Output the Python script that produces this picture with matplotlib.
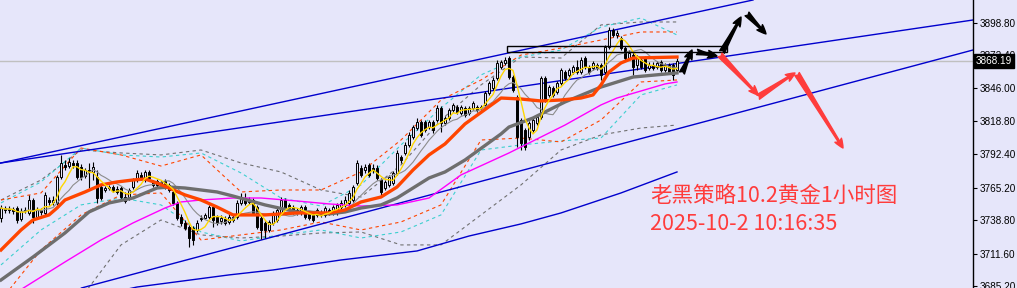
import matplotlib.pyplot as plt
import numpy as np
import pandas as pd
from matplotlib.patches import Rectangle

# 1h candles, oldest first
opens = [3740.6, 3748.7, 3747.1, 3747.9, 3748.7, 3739.8, 3746.3, 3744.7, 3755.2, 3741.4,
         3747.1, 3744.7, 3755.2, 3753.6, 3752.8, 3773.8, 3783.6, 3782.7, 3785.2, 3785.2,
         3781.9, 3774.6, 3779.5, 3777.9, 3773.8, 3765.7, 3763.3, 3764.9, 3765.7, 3764.1,
         3764.9, 3757.6, 3757.6, 3765.7, 3771.4, 3775.5, 3771.4, 3777.9, 3769.8, 3767.4,
         3769.8, 3770.6, 3767.4, 3761.7, 3752.8, 3741.4, 3736.6, 3733.3, 3732.5, 3730.9,
         3739.8, 3740.6, 3741.4, 3749.5, 3741.4, 3738.2, 3739.8, 3737.4, 3741.4, 3741.4,
         3752.8, 3756.8, 3753.6, 3755.2, 3749.5, 3740.6, 3736.6, 3730.9, 3736.6, 3739.0,
         3744.7, 3755.2, 3751.2, 3749.5, 3747.1, 3744.7, 3749.5, 3744.7, 3743.1, 3743.1,
         3745.5, 3743.1, 3747.1, 3744.7, 3744.7, 3749.5, 3751.2, 3752.8, 3755.2, 3769.0,
         3781.1, 3779.5, 3783.6, 3781.1, 3781.1, 3771.4, 3764.9, 3767.4, 3769.0, 3777.1,
         3790.0, 3793.3, 3799.8, 3806.2, 3813.5, 3818.4, 3818.4, 3814.3, 3818.4, 3820.0,
         3829.7, 3817.6, 3821.6, 3828.1, 3830.5, 3825.7, 3829.7, 3825.7, 3829.7, 3830.5,
         3829.7, 3832.2, 3841.9, 3845.9, 3854.0, 3862.9, 3866.2, 3870.2, 3854.8, 3838.6,
         3820.0, 3811.9, 3806.2, 3811.9, 3817.6, 3822.4, 3854.0, 3840.3, 3845.9, 3842.7,
         3850.0, 3858.9, 3856.5, 3858.9, 3862.9, 3858.9, 3870.2, 3862.9, 3862.1, 3864.5,
         3864.5, 3858.9, 3879.1, 3892.9, 3888.9, 3886.4, 3878.3, 3870.2, 3872.7, 3864.5,
         3868.6, 3870.2, 3862.1, 3864.5, 3862.9, 3867.0, 3860.5, 3864.5, 3864.5, 3860.5]
closes = [3748.7, 3747.1, 3747.9, 3746.3, 3739.0, 3746.3, 3747.1, 3755.2, 3741.4, 3747.9,
          3745.5, 3759.3, 3753.6, 3755.2, 3773.8, 3785.2, 3781.9, 3786.0, 3783.6, 3773.8,
          3773.8, 3779.5, 3777.9, 3781.9, 3756.8, 3756.8, 3764.9, 3765.7, 3763.3, 3761.7,
          3757.6, 3754.4, 3763.3, 3771.4, 3777.1, 3773.0, 3777.9, 3773.0, 3767.4, 3770.6,
          3767.4, 3765.7, 3763.3, 3752.8, 3740.6, 3736.6, 3732.5, 3724.4, 3722.8, 3736.6,
          3740.6, 3743.1, 3749.5, 3739.0, 3736.6, 3740.6, 3736.6, 3741.4, 3739.0, 3752.8,
          3756.8, 3752.8, 3755.2, 3744.7, 3733.3, 3730.9, 3730.9, 3737.4, 3744.7, 3747.1,
          3755.2, 3748.7, 3748.7, 3745.5, 3744.7, 3749.5, 3741.4, 3740.6, 3739.0, 3747.1,
          3743.1, 3748.7, 3744.7, 3749.5, 3751.2, 3752.8, 3755.2, 3760.9, 3765.7, 3785.2,
          3775.5, 3781.9, 3775.5, 3779.5, 3773.0, 3761.7, 3769.8, 3773.8, 3777.1, 3793.3,
          3787.6, 3799.8, 3807.9, 3814.3, 3818.4, 3807.9, 3811.9, 3818.4, 3811.9, 3829.7,
          3817.6, 3821.6, 3828.1, 3832.2, 3826.5, 3830.5, 3824.0, 3829.7, 3833.8, 3828.1,
          3830.5, 3841.9, 3850.0, 3852.4, 3866.2, 3867.0, 3868.6, 3854.8, 3844.3, 3806.2,
          3801.4, 3798.1, 3817.6, 3820.0, 3822.4, 3854.0, 3836.2, 3846.7, 3840.3, 3850.0,
          3860.5, 3854.0, 3860.5, 3862.9, 3858.9, 3868.6, 3862.9, 3858.9, 3866.2, 3862.1,
          3856.5, 3879.1, 3892.9, 3888.9, 3890.5, 3878.3, 3870.2, 3874.3, 3862.9, 3871.0,
          3862.9, 3860.5, 3864.5, 3862.1, 3866.2, 3860.5, 3864.5, 3858.9, 3856.5, 3868.19]
highs = [3751.2, 3750.3, 3750.3, 3749.5, 3750.3, 3748.7, 3749.5, 3759.3, 3756.8, 3749.5,
         3748.7, 3761.7, 3757.6, 3758.4, 3775.5, 3791.7, 3787.6, 3789.2, 3787.6, 3787.6,
         3784.4, 3781.1, 3785.2, 3786.0, 3779.5, 3767.4, 3766.5, 3767.4, 3767.4, 3766.5,
         3766.5, 3761.7, 3764.9, 3773.0, 3779.5, 3777.9, 3779.5, 3779.5, 3771.4, 3772.2,
         3771.4, 3772.2, 3769.0, 3763.3, 3754.4, 3743.9, 3739.0, 3734.9, 3734.1, 3739.0,
         3743.1, 3744.7, 3751.2, 3751.2, 3743.1, 3743.1, 3742.2, 3743.9, 3743.1, 3755.2,
         3760.9, 3760.9, 3757.6, 3756.8, 3751.2, 3742.2, 3738.2, 3739.0, 3746.3, 3748.7,
         3757.6, 3756.8, 3752.8, 3751.2, 3748.7, 3751.2, 3751.2, 3746.3, 3744.7, 3748.7,
         3747.1, 3750.3, 3748.7, 3751.2, 3752.8, 3755.2, 3758.4, 3763.3, 3767.4, 3787.6,
         3783.6, 3784.4, 3785.2, 3784.4, 3783.6, 3773.0, 3771.4, 3775.5, 3778.7, 3795.7,
         3791.7, 3802.2, 3810.3, 3816.0, 3821.6, 3820.0, 3820.0, 3820.0, 3820.0, 3832.2,
         3831.3, 3823.2, 3829.7, 3833.8, 3832.2, 3832.2, 3831.3, 3831.3, 3835.4, 3832.2,
         3832.2, 3843.5, 3851.6, 3854.8, 3868.6, 3868.6, 3871.0, 3871.8, 3856.5, 3840.3,
         3821.6, 3813.5, 3819.2, 3821.6, 3824.0, 3855.6, 3855.6, 3848.4, 3847.5, 3851.6,
         3862.1, 3860.5, 3862.1, 3864.5, 3868.6, 3871.0, 3871.8, 3864.5, 3867.8, 3866.2,
         3866.2, 3880.8, 3895.3, 3894.5, 3892.9, 3888.0, 3879.9, 3876.7, 3875.1, 3872.7,
         3870.2, 3871.8, 3867.0, 3867.0, 3867.8, 3868.6, 3866.2, 3866.2, 3866.2, 3870.2]
lows = [3737.4, 3744.7, 3744.7, 3743.9, 3736.6, 3738.2, 3744.7, 3743.1, 3736.6, 3739.8,
        3743.1, 3743.1, 3751.2, 3751.2, 3751.2, 3772.2, 3779.5, 3781.1, 3781.1, 3772.2,
        3771.4, 3773.0, 3764.9, 3771.4, 3752.8, 3755.2, 3761.7, 3763.3, 3761.7, 3760.1,
        3755.2, 3752.8, 3755.2, 3764.1, 3769.8, 3771.4, 3769.8, 3771.4, 3765.7, 3765.7,
        3765.7, 3764.1, 3761.7, 3751.2, 3739.0, 3734.1, 3730.9, 3717.1, 3718.8, 3729.3,
        3738.2, 3739.8, 3739.8, 3733.3, 3734.9, 3735.8, 3734.9, 3735.8, 3737.4, 3739.8,
        3751.2, 3751.2, 3752.0, 3743.1, 3731.7, 3723.6, 3724.4, 3729.3, 3734.9, 3737.4,
        3743.1, 3747.1, 3747.1, 3743.9, 3743.1, 3743.1, 3739.8, 3739.0, 3737.4, 3741.4,
        3741.4, 3741.4, 3743.1, 3743.1, 3743.1, 3747.9, 3749.5, 3751.2, 3753.6, 3767.4,
        3773.8, 3777.1, 3773.8, 3777.1, 3771.4, 3759.3, 3763.3, 3765.7, 3767.4, 3775.5,
        3785.2, 3791.7, 3798.1, 3804.6, 3811.9, 3806.2, 3810.3, 3812.7, 3809.5, 3818.4,
        3810.3, 3816.0, 3820.0, 3826.5, 3824.9, 3824.0, 3822.4, 3824.0, 3828.1, 3826.5,
        3828.1, 3830.5, 3840.3, 3844.3, 3852.4, 3861.3, 3864.5, 3853.2, 3842.7, 3798.1,
        3795.7, 3795.7, 3803.8, 3810.3, 3816.0, 3820.8, 3834.6, 3838.6, 3838.6, 3841.1,
        3848.4, 3852.4, 3854.8, 3857.3, 3857.3, 3857.3, 3861.3, 3857.3, 3860.5, 3860.5,
        3852.4, 3857.3, 3877.5, 3887.2, 3886.4, 3876.7, 3868.6, 3868.6, 3856.5, 3860.5,
        3861.3, 3858.9, 3860.5, 3860.5, 3861.3, 3858.9, 3858.9, 3857.3, 3852.4, 3858.9]
last_price = 3868.19

# slow averages: (bar index, price)
orange_ma_bars = [0, 5, 8, 12, 14, 16, 21, 25, 29, 33, 36, 39, 42, 46, 50, 54, 58, 66, 74, 82,
                  86, 90, 95, 99, 103, 107, 111, 116, 125, 130, 135, 140, 145, 148, 150, 152,
                  155, 158, 169]
orange_ma = [3714.7, 3730.9, 3739.0, 3743.1, 3748.7, 3755.2, 3761.7, 3767.4, 3769.8, 3771.4,
             3772.2, 3769.0, 3764.9, 3759.3, 3755.2, 3749.5, 3743.1, 3743.1, 3744.7, 3744.7,
             3747.1, 3753.6, 3757.6, 3765.7, 3779.5, 3791.7, 3800.6, 3816.8, 3837.8, 3837.0,
             3835.4, 3836.2, 3837.8, 3840.3, 3848.4, 3858.9, 3866.2, 3870.2, 3871.0]
grey_ma_bars = [0, 8, 16, 22, 27, 33, 39, 42, 46, 50, 54, 58, 66, 74, 82, 86, 90, 95, 99, 103,
                107, 111, 116, 125, 127, 133, 141, 150, 158, 169]
grey_ma = [3690.4, 3709.0, 3728.5, 3745.5, 3752.8, 3756.8, 3764.9, 3765.7, 3764.9, 3763.3,
           3761.7, 3758.4, 3751.2, 3745.5, 3743.9, 3745.5, 3748.7, 3751.2, 3756.8, 3764.9,
           3773.0, 3777.9, 3787.6, 3808.7, 3814.3, 3821.6, 3834.6, 3846.7, 3854.8, 3858.1]
magenta_ma_bars = [0, 6, 16, 25, 33, 41, 45, 50, 58, 65, 74, 82, 90, 99, 107, 115, 127, 141,
                   150, 154, 166, 169]
magenta_ma = [3672.6, 3684.7, 3705.0, 3722.8, 3736.6, 3748.7, 3753.6, 3755.2, 3756.8, 3756.8,
              3754.4, 3752.0, 3750.3, 3751.2, 3756.8, 3775.5, 3793.3, 3815.9, 3832.2, 3837.8,
              3849.2, 3850.8]
blue_ma_bars = [25, 34, 57, 68, 85, 104, 117, 130, 140, 155, 169]
blue_ma = [3678.3, 3684.7, 3694.5, 3698.5, 3706.6, 3713.9, 3726.0, 3735.8, 3744.7, 3760.9,
           3777.9]

# band lines, sampled every 10 bars
band_bars = [0, 10, 20, 30, 40, 50, 60, 70, 80, 90, 100, 110, 120, 130, 140, 150, 160, 169]
orange_up = [3755.2, 3760.9, 3797.3, 3791.7, 3782.7, 3791.7, 3761.7, 3763.3, 3763.3, 3777.9,
             3803.8, 3836.2, 3852.4, 3872.6, 3878.3, 3884.8, 3891.3, 3891.3]
orange_dn = [3674.2, 3714.7, 3743.1, 3759.3, 3760.9, 3722.8, 3726.9, 3730.9, 3737.4, 3730.9,
             3737.4, 3751.2, 3803.8, 3805.4, 3802.2, 3820.0, 3850.8, 3852.4]
grey_up = [3755.2, 3771.4, 3795.7, 3793.3, 3791.7, 3795.7, 3785.2, 3777.9, 3763.3, 3757.6,
           3783.6, 3820.0, 3848.4, 3871.0, 3870.2, 3897.0, 3899.4, 3899.4]
grey_dn = [3649.9, 3658.0, 3675.8, 3718.8, 3739.0, 3726.9, 3724.4, 3726.0, 3728.5, 3729.3,
           3718.8, 3718.8, 3743.1, 3767.4, 3795.7, 3807.9, 3813.5, 3815.9]
cyan_up = [3752.8, 3769.8, 3797.3, 3791.7, 3790.0, 3793.3, 3777.1, 3756.8, 3750.3, 3767.4,
           3799.8, 3829.7, 3856.5, 3871.0, 3876.7, 3895.3, 3902.6, 3888.9]
cyan_dn = [3702.6, 3730.9, 3751.2, 3756.8, 3751.2, 3729.3, 3722.0, 3726.9, 3730.9, 3724.4,
           3729.3, 3743.1, 3795.7, 3799.8, 3803.0, 3805.4, 3840.3, 3848.4]

# drawn objects: trend lines, box, arrows
trend_lines = [((0, 3785.2), (188, 3917.2)),
               ((0, 3785.2), (243, 3901.0)),
               ((32.25, 3694.4), (243, 3876.7))]
box_bars = (126.5, 181.5)
box_prices = (3875.1, 3879.9)
black_arrows = [((170.25, 3858.1), (172.75, 3876.7)),
                ((174, 3875.1), (179, 3871.8)),
                ((180.25, 3875.1), (185, 3903.4)),
                ((186.5, 3905.9), (191.25, 3889.7))]
red_arrows = [((179.75, 3872.7), (189.25, 3840.3)),
              ((189.25, 3838.6), (198.5, 3858.1)),
              ((199, 3857.3), (210.5, 3797.3))]

y_ticks = [3898.80, 3872.40, 3846.00, 3818.80, 3792.40, 3765.20, 3738.80, 3711.60, 3685.20]
title_lines = ["老黑策略10.2黄金1小时图", "2025-10-2 10:16:35"]

BG = '#e6e6fa'
RED = '#ff3c3c'

fig = plt.figure(figsize=(10.17, 2.88), dpi=100, facecolor=BG)
ax = fig.add_axes([0, 0, 973 / 1017, 1], facecolor=BG)

x = np.arange(len(closes))
o = np.array(opens)
c = np.array(closes)
h = np.array(highs)
l = np.array(lows)

# band lines
dash = (0, (3, 3))
for up, dn, col in [(grey_up, grey_dn, '#707070'), (cyan_up, cyan_dn, '#3ccfcf'),
                    (orange_up, orange_dn, '#ff4500')]:
    ax.plot(band_bars, up, color=col, lw=0.8, ls=dash, zorder=2)
    ax.plot(band_bars, dn, color=col, lw=0.8, ls=dash, zorder=2)

# trend lines
for p1, p2 in trend_lines:
    ax.axline(p1, p2, color='#0000cd', lw=1.0, zorder=2)
ax.plot(blue_ma_bars, blue_ma, color='#0000cd', lw=1.0, zorder=2)

ax.axhline(last_price, color='#c0c0c0', lw=1.0, zorder=1)

# candles
ax.vlines(x, l, h, color='black', lw=0.8, zorder=3)
up = c >= o
ax.bar(x[up], (c - o)[up], bottom=o[up], width=0.7, color=BG, edgecolor='black',
       lw=0.7, zorder=4)
ax.bar(x[~up], (o - c)[~up], bottom=c[~up], width=0.7, color='black', edgecolor='black',
       lw=0.7, zorder=4)

# averages
s = pd.Series(closes)
ax.plot(x, s.rolling(10, min_periods=1).mean(), color='#8c8c8c', lw=0.8, zorder=5)
ax.plot(magenta_ma_bars, magenta_ma, color='#ff00ff', lw=1.0, zorder=5)
ax.plot(grey_ma_bars, grey_ma, color='#6e6e6e', lw=2.4, zorder=5)
ax.plot(orange_ma_bars, orange_ma, color='#ff4500', lw=2.4, zorder=5)
ax.plot(x, s.rolling(5, min_periods=1).mean(), color='#ffd700', lw=1.0, zorder=6)

ax.add_patch(Rectangle((box_bars[0], box_prices[0]), box_bars[1] - box_bars[0],
                       box_prices[1] - box_prices[0], fill=False, edgecolor='black',
                       lw=1.0, zorder=7))

for arrows, col in [(black_arrows, 'black'), (red_arrows, RED)]:
    for tail, head in arrows:
        ax.annotate('', xy=head, xytext=tail, zorder=8,
                    arrowprops=dict(arrowstyle='fancy,head_length=0.6,head_width=0.5,tail_width=0.35',
                                    color=col, mutation_scale=11, shrinkA=0, shrinkB=0))

ax.text(0.668, 0.319, title_lines[0], transform=ax.transAxes, color=RED, fontsize=15.5,
        family=['Noto Sans CJK SC', 'DejaVu Sans'], va='center', ha='left')
ax.text(0.668, 0.222, title_lines[1], transform=ax.transAxes, color=RED, fontsize=15.5,
        family=['Noto Sans CJK SC', 'DejaVu Sans'], va='center', ha='left')

ax.set_xlim(-0.25, 243)
ax.set_ylim(3683.9, 3917.2)
for side in ['left', 'top', 'bottom']:
    ax.spines[side].set_visible(False)
ax.spines['right'].set_color('black')
ax.spines['right'].set_linewidth(1.0)
ax.set_xticks([])
ax.yaxis.tick_right()
ax.set_yticks(y_ticks)
ax.set_yticklabels(['%.2f' % v for v in y_ticks], family='Liberation Sans', fontsize=7.2)
ax.tick_params(axis='y', direction='out', length=3, width=0.8, pad=2, colors='black')

ax.text(1.003, last_price, '%.2f' % last_price, transform=ax.get_yaxis_transform(),
        color='white', fontsize=7.2, family='Liberation Sans', va='center', ha='left',
        zorder=10, clip_on=False,
        bbox=dict(boxstyle='square,pad=0.2', fc='black', ec='black'))

fig.savefig('out.png', dpi=100, facecolor=BG)
